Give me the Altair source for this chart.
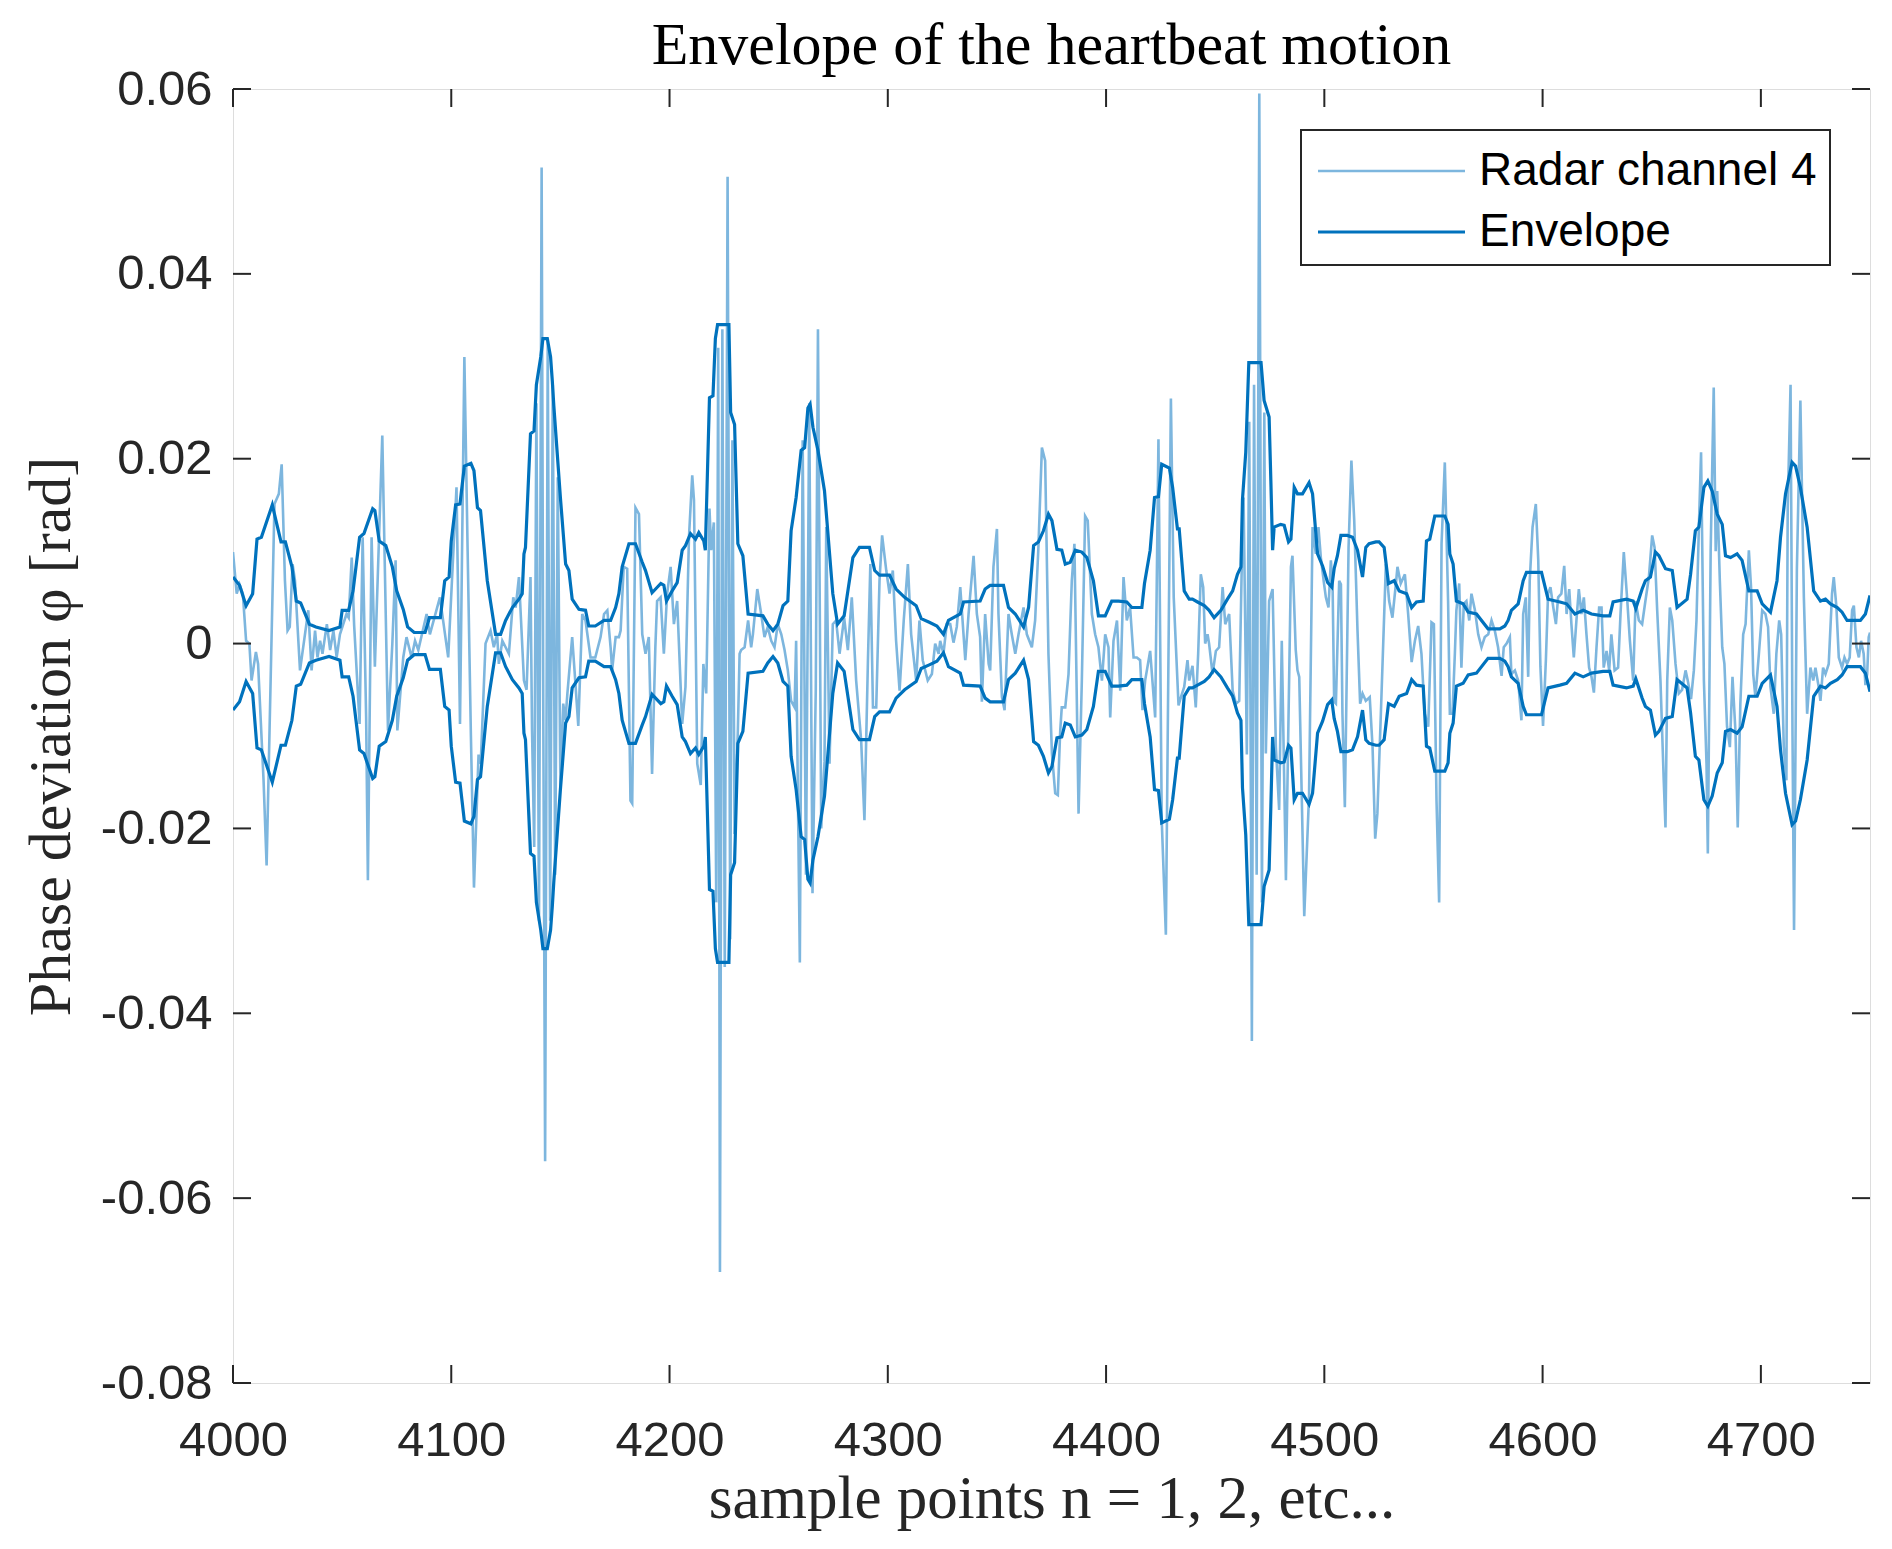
import altair as alt
import pandas as pd

# ---------------- text ----------------
TITLE = "Envelope of the heartbeat motion"
X_TITLE = "sample points n = 1, 2, etc..."
Y_TITLE = "Phase deviation φ [rad]"
LEGEND_LABELS = ["Radar channel 4", "Envelope"]

# ---------------- axes ----------------
X_DOMAIN = [4000, 4750]
Y_DOMAIN = [-0.08, 0.06]
X_TICKS = [4000, 4100, 4200, 4300, 4400, 4500, 4600, 4700]
Y_TICKS = [-0.08, -0.06, -0.04, -0.02, 0, 0.02, 0.04, 0.06]

# ---------------- data (sample n, value in mrad) ----------------
SIGNAL = [
    (4000, 9.9), (4001.7, 5.4), (4003, 6.4), (4004.5, 5.4), (4006, 0.3), (4007.5, 0), (4008.5, -4.0),
    (4010.5, -0.9), (4011.5, -2.2), (4014, -14.8), (4015.4, -24), (4019, 15.1), (4021, 16.2), (4022.3, 19.4),
    (4023.8, 6.8), (4025, 1.4), (4026, 1.8), (4027.3, 8.6), (4028.4, 6.8), (4030.7, -2.9), (4034.5, 3.6),
    (4036, -2.9), (4037.6, 1.4), (4038.7, -1.5), (4039.9, 0.3), (4041, -1.1), (4043, 2.1), (4044.5, -0.7),
    (4046, 1.4), (4047.5, -1.5), (4049, 1.0), (4052, 3.2), (4053, 2.8), (4054.4, 9.3), (4055.5, 2.0),
    (4058, -8.7), (4059.4, 11.5), (4061, -8.0), (4061.8, -25.6), (4063.5, 11.5), (4065, -2.5), (4068.4, 22.5),
    (4071, -9.4), (4073, 0), (4074.5, 9.0), (4075.3, -9.4), (4078, -1.5), (4079.5, 0.7), (4081.8, -1.5),
    (4083.4, 0.3), (4084.9, -0.7), (4088.7, 3.2), (4090.2, 1.0), (4094.8, 5.0), (4098.6, -1.5), (4102.4, 16.9),
    (4104, -8.7), (4106, 31), (4107.5, 10), (4109, -10), (4110.4, -26.4), (4112.5, -12), (4113.5, -13),
    (4115.7, 0), (4118, 1.4), (4119.5, -0.4), (4121, 1.0), (4121.8, -2.2), (4123.4, 0.3), (4124.9, -0.4),
    (4126.4, -1.1), (4128.4, 5.0), (4129.5, 3.9), (4131, 7.2), (4133.3, -4.0), (4134.5, -5.0), (4136.3, 7.2),
    (4137, -9.4), (4138, -22), (4139, 26), (4140.2, -30), (4141.4, 51.5), (4142.2, -10), (4143, -56),
    (4144.2, 33), (4145.3, -30), (4146.5, 28), (4147.6, -25), (4148.8, 18), (4150, -15.5), (4151.3, -6.5),
    (4152.3, -8.3), (4153.2, -5.4), (4155.4, 0.7), (4156.5, -3), (4158.2, -8.9), (4160, 3.2), (4161.5, 2.5),
    (4163.8, -1.5), (4166, -1.5), (4168.4, 0.7), (4170, 3.2), (4171.5, 3.6), (4173, -0.4), (4173.7, -2.9),
    (4175.3, 0.7), (4176.8, 0.7), (4177.6, 1.4), (4179, 8.3), (4180.6, 8.1), (4182.1, -17), (4182.9, -17.3),
    (4184.4, 14.7), (4186, 14.0), (4187.5, 1.0), (4189, -1.1), (4190.5, 0.7), (4192, -14.1), (4193.5, -0.4),
    (4194.3, 4.6), (4195.9, 5.0), (4197.4, -1.1), (4198.9, 5.4), (4200.5, 8.3), (4202, 2.1), (4203.5, 4.6),
    (4205.8, -8.7), (4207.3, -4.7), (4208.9, 11.5), (4210.4, 18.2), (4211.2, 15.5), (4212.7, -13),
    (4214.3, -15.3), (4215.5, -2.2), (4216.8, -5.4), (4218.3, 14.6), (4219.1, 10.1), (4220.3, 13.1),
    (4221.4, -28), (4222.3, 32), (4223.1, -68), (4224.2, 34), (4225.3, -35), (4226.6, 50.5), (4227.8, -32),
    (4228.8, 22), (4229.8, -20.6), (4231.3, -9.4), (4232.1, -1.1), (4232.8, -0.7), (4234.4, -0.4), (4236, 2.5),
    (4237.4, -0.4), (4238.2, 1.0), (4240.2, 5.9), (4242, 3.2), (4243.5, 0.7), (4245, 1.8), (4246.6, 0.3),
    (4248.1, -0.4), (4249.6, 2.1), (4251.2, 1.0), (4252.7, -0.7), (4254.2, -2.9), (4255.7, -6.2),
    (4257.3, -6.9), (4258, 0.3), (4259.7, -34.5), (4261, 22), (4262.5, -25), (4264, 26), (4265.5, -27),
    (4267, -5), (4268, 34), (4269.5, -20), (4271, -12.8), (4271.8, 12.6), (4273.3, -13), (4274.8, 2.1),
    (4276.3, 2.5), (4277.9, -1.1), (4280, 2.8), (4281.7, -0.7), (4283.5, 5.0), (4285.5, -4.0), (4287.8, -10.5),
    (4289.3, -19.1), (4290.9, -1.8), (4292, 8.6), (4293.2, -6.9), (4294.7, -6.9), (4296.2, 6.8), (4297.4, 11.7),
    (4299.3, 7.9), (4300.8, 5.4), (4302.3, 7.9), (4303.8, 0.3), (4305.4, -5.1), (4307.3, 2.5), (4309.2, 8.6),
    (4310.7, 1.0), (4313, -4.0), (4314.5, 2.5), (4316, -1.8), (4318.3, -4.0), (4320.2, -3.3), (4321.7, 0),
    (4323.3, -1.1), (4324, 0.3), (4325.5, -1.1), (4327, 2.1), (4328.6, 2.1), (4330.1, 0.1), (4331.6, 1.8),
    (4333.2, 6.1), (4335.5, -1.8), (4337, 3.2), (4339.3, 9.5), (4340.8, 3.2), (4342.3, 0.7), (4343.1, -6.3),
    (4344.6, 3.2), (4346.2, -2.2), (4346.9, -2.9), (4348.4, 8.3), (4350, 12.4), (4350.7, 3.2), (4352.3, -5.8),
    (4353.5, -7.2), (4355.3, 3.2), (4356.8, 1.0), (4358.4, -1.1), (4359.9, 1.0), (4362.2, 3.9), (4363.7, 1.0),
    (4366, -0.4), (4367.5, 2.5), (4369, 10.4), (4370.6, 21.2), (4372.1, 19.8), (4373.6, -1.1), (4375.2, -11.9),
    (4376.7, -16.2), (4377.9, -16.4), (4379, -9.4), (4379.7, -6.9), (4381.3, -6.9), (4382.8, -3.3),
    (4384.3, 6.8), (4385.5, 10.8), (4387.4, -18.4), (4388.9, -4.0), (4390.4, 13.8), (4391.6, 13.3),
    (4393.5, 3.2), (4395, 1.0), (4396.5, -0.4), (4398.1, -4.0), (4399.6, 1.0), (4401.1, -0.4), (4401.9, -8.0),
    (4403.4, 0.3), (4405, 2.5), (4406.5, -5.1), (4408, 7.2), (4409.5, 2.5), (4411, 3.9), (4412.6, -1.5),
    (4414.1, -1.5), (4415.6, -1.8), (4416.7, -7.2), (4417.9, -4.0), (4420.2, -0.8), (4422.5, -8.0),
    (4424, 22.1), (4425.5, -19.1), (4427.4, -31.5), (4429.7, 26.5), (4431, 5), (4433.2, -6.7), (4434.3, -5.8),
    (4435.8, -4.7), (4437.3, -1.8), (4438.1, -4.0), (4439.6, -2.4), (4441.1, -6.9), (4442.2, -1.1),
    (4443.4, 7.5), (4444.5, 6.1), (4445.4, 0), (4446.5, 1.0), (4447.2, 0), (4448.8, -3.3), (4450.3, -0.8),
    (4451.8, -0.4), (4453.4, 6.1), (4454.6, 2.1), (4456.4, 3.2), (4458, -5.1), (4459.5, -6.5), (4461, -6.2),
    (4462.2, 8.8), (4463, 15.8), (4464.5, -12), (4465.6, 24), (4466.8, -43), (4467.8, 28), (4469, -25),
    (4470.2, 59.5), (4471.4, -28), (4472.5, 25), (4473.2, -11.9), (4474.7, 4.6), (4476.3, 5.9),
    (4477.8, -11.2), (4479.3, -18), (4480.5, 0.3), (4482.4, -25.6), (4484.7, 8.3), (4485.4, 9.5),
    (4486.9, -0.7), (4487.7, -2.9), (4488.5, -3.6), (4490.8, -29.5), (4493, -16.4), (4494.6, 12.6),
    (4496.1, 9.7), (4497.3, 12.6), (4498.4, 9.3), (4499.9, 6.4), (4500.7, 5.0), (4501.9, 3.9), (4503, 9.0),
    (4503.8, 6.1), (4504.5, -6.3), (4505.3, -6.5), (4506.8, 6.8), (4507.6, 6.4), (4508.3, -7.6),
    (4509.4, -17.7), (4511.1, 10.4), (4512.4, 19.8), (4513.7, 13.3), (4515.2, 1.4), (4516.4, -6.5),
    (4517.5, -5.4), (4519, -6.2), (4520.8, -5.8), (4522.1, -11.2), (4523.3, -21.1), (4524.3, -18.4),
    (4525.9, -7.6), (4528.2, 8.6), (4529.7, 4.6), (4531.2, 2.8), (4532.8, 6.5), (4533.5, 8.3), (4535, 6.5),
    (4536.9, 7.5), (4538.4, 3.2), (4540, -2.0), (4541.5, 0.3), (4543, 1.9), (4544.5, -1.1), (4546, -7.6),
    (4547.6, -9.0), (4549.1, 2.3), (4550.2, 2.1), (4551.4, -17), (4552.6, -28), (4553.7, 10.8), (4555.2, 19.6),
    (4556.7, 4.6), (4557.5, -7.6), (4558.7, -7.6), (4559.8, -1.1), (4560.5, 3.6), (4561.8, 6.5), (4562.8, -2.6),
    (4563.9, 4.3), (4565.1, 4.6), (4566.4, 2.5), (4567.4, 5.4), (4569, 3.6), (4570.5, 1.0), (4572, -0.4),
    (4573.5, 0.7), (4575.1, 1.0), (4576.6, 2.5), (4578.1, 1.4), (4579.6, -0.4), (4581.2, -3.5), (4582.2, -0.4),
    (4583.5, 0), (4585, 0.7), (4585.7, -3.3), (4587.3, -2.9), (4588.8, -4.0), (4590.3, -8.3), (4591.1, 3.2),
    (4592.3, 5.0), (4593.4, -3.6), (4594.1, 6.8), (4595.4, 12.6), (4596.9, 15.1), (4598, 9.1), (4599, -2.5),
    (4600.2, -8.9), (4601.5, -1.8), (4602.5, 5.4), (4603.6, 6.1), (4604.9, 3.9), (4606.1, 2.1), (4607.1, 5.0),
    (4608.6, 5.4), (4609.9, 8.4), (4611, 3.2), (4612.2, 5.9), (4613.2, 2.1), (4614.3, -1.5), (4615.5, 2.5),
    (4616.6, 5.9), (4617.8, 3.2), (4618.9, 5.0), (4620.1, 1.0), (4621.3, -2.6), (4622.4, -3.6), (4623.5, -5.3),
    (4624.7, -0.4), (4625.9, 3.9), (4627, 3.9), (4628, -2.6), (4629.3, -0.8), (4630.5, -2.9), (4631.5, 1.0),
    (4633, -2.9), (4634.6, -2.6), (4635.7, 3.2), (4637.2, 9.9), (4638.7, 5.0), (4640, 0.3), (4641.5, -4.0),
    (4642.6, 4.6), (4644.1, 2.5), (4645.6, 2.1), (4647.1, 4.6), (4648.7, 7.2), (4650.2, 11.7), (4651.3, 10.4),
    (4652.5, 3.6), (4654, -4.0), (4655.5, -14.8), (4656.3, -19.9), (4657.1, -4.0), (4658.3, 3.9), (4659.4, 2.5),
    (4660.9, -2.2), (4662.4, -5.4), (4663.9, -5.0), (4665.5, -2.9), (4666.5, -4.0), (4668, -6.0),
    (4669.3, -2.9), (4670.5, 2.5), (4671.6, 12.6), (4672.6, 20.7), (4673.9, -4.0), (4675.1, -13),
    (4675.7, -22.7), (4677, 10), (4678.4, 27.7), (4679.3, 10), (4680, 16.5), (4681.2, 6.8), (4682.3, -0.4),
    (4683.3, -2.2), (4684.5, -9.0), (4685.8, -11.2), (4687, -3.6), (4688.4, -9.7), (4689.4, -19.9),
    (4690.6, -6.5), (4691.9, 1.0), (4693, 2.1), (4694.5, 10.1), (4695.5, 6.1), (4696.5, -3.3), (4697.5, -5.8),
    (4699.1, -1.1), (4700.6, 3.6), (4702.1, 3.2), (4703.3, 1.8), (4704.4, -4.7), (4705.9, -7.6), (4707.1, -1.1),
    (4708.4, 2.5), (4709.3, 1.0), (4710.5, -11.2), (4711.7, -14.8), (4712.3, 14.7), (4713.6, 28), (4714.5, -10),
    (4715.2, -31), (4716.5, 8), (4718.1, 26.3), (4719.7, 5), (4721.2, -7.6), (4722.7, -2.6), (4724, -4.0),
    (4725, -2.6), (4726.5, -4.7), (4727.3, -6.2), (4728.5, -2.6), (4729.6, -3.3), (4731.1, -2.2), (4732.6, 5.4),
    (4733.4, 7.2), (4734.6, 4.0), (4735.7, -1.5), (4737.2, -2.6), (4738.3, -1.5), (4739.5, -2.2),
    (4740.7, -1.5), (4741.8, 3.6), (4742.6, 4.1), (4743.8, -0.4), (4744.9, -1.5), (4745.9, 0.3), (4747.1, -1.1),
    (4747.9, -4.5), (4748.7, -3.3), (4749.4, 0.7), (4750, 1.2),
]

ENVELOPE = [
    (4000, 7.2), (4003, 6.3), (4006, 4.1), (4009, 5.4), (4011, 11.3), (4013, 11.5), (4018, 15.0), (4022, 11.0),
    (4024, 11.0), (4027, 8.3), (4029, 4.6), (4031, 4.4), (4035, 2.1), (4038, 1.8), (4044, 1.4), (4049, 1.8),
    (4050, 3.6), (4053, 3.6), (4055, 5.7), (4058, 11.5), (4060, 11.9), (4064, 14.6), (4065, 14.4), (4067, 11.1),
    (4070, 10.6), (4073, 8.3), (4075, 5.7), (4078, 3.7), (4080, 1.8), (4083, 1.2), (4088, 1.2), (4090, 2.8),
    (4095, 2.8), (4097, 6.8), (4099, 7.2), (4100, 11.1), (4102, 15.0), (4104, 15.1), (4106, 19.2), (4109, 19.5),
    (4110.4, 18.7), (4112, 14.7), (4113.4, 14.4), (4116.5, 6.8), (4120.3, 1.0), (4122.6, 1.0), (4124.9, 2.5),
    (4128, 3.9), (4131, 4.8), (4132.5, 5.4), (4133.3, 9.7), (4134, 10.4), (4136.3, 22.7), (4137.9, 23.0),
    (4139, 28), (4141, 31), (4142, 33), (4144, 33), (4145.5, 31), (4146.3, 28.4), (4147, 25.7), (4150, 15.8),
    (4152.4, 8.6), (4153.9, 7.9), (4155.4, 4.8), (4158.5, 3.7), (4161.5, 3.6), (4163, 1.9), (4166, 1.9),
    (4170, 2.5), (4173, 2.5), (4175.3, 3.9), (4176.8, 5.4), (4178.3, 8.3), (4181.4, 10.8), (4184.4, 10.8),
    (4187.5, 8.8), (4189, 7.9), (4192, 5.5), (4196, 6.5), (4197.4, 6.3), (4198.6, 4.6), (4201.2, 5.7),
    (4203.5, 6.6), (4205.8, 10.1), (4207.3, 10.6), (4209.6, 11.9), (4211.9, 11.3), (4213.4, 12.0),
    (4215.7, 11.1), (4216.4, 10.1), (4218.3, 26.6), (4219.9, 26.8), (4221, 33), (4222, 34.5), (4227.2, 34.5),
    (4228, 25), (4229.8, 23.7), (4231.3, 10.8), (4233.6, 9.5), (4236, 3.2), (4242.8, 3.0), (4245, 2.1),
    (4247.4, 1.4), (4249.6, 2.1), (4252, 4.1), (4254.2, 4.6), (4255.7, 12.2), (4258, 15.8), (4260.3, 20.9),
    (4261.9, 21.2), (4263.4, 25.5), (4264.4, 25.9), (4265.7, 23.4), (4268, 20.9), (4271, 16.5), (4274.8, 5.4),
    (4277, 2.1), (4280, 3.0), (4284, 9.3), (4287, 10.4), (4291.6, 10.4), (4294, 7.9), (4296.2, 7.4),
    (4300.8, 7.4), (4303.8, 5.9), (4307.7, 5.0), (4313, 4.1), (4315.3, 2.7), (4319, 2.3), (4322.5, 1.9),
    (4325.5, 1.0), (4327.8, 2.5), (4333.2, 3.2), (4334.7, 4.5), (4342.3, 4.6), (4344.6, 5.9), (4346.9, 6.3),
    (4353, 6.3), (4355.3, 3.9), (4358.4, 3.2), (4362.2, 1.8), (4364.5, 3.9), (4366.8, 10.6), (4369, 11.0),
    (4371.3, 12.2), (4373.6, 14.0), (4375.2, 13.3), (4377.5, 10.2), (4379.7, 10.1), (4381.3, 8.6),
    (4383.6, 8.8), (4385.9, 10.1), (4388.9, 9.9), (4391.2, 9.3), (4394.2, 6.8), (4396.5, 3.0), (4399.6, 3.0),
    (4402.6, 4.6), (4405.7, 4.6), (4409.5, 4.5), (4411.8, 3.9), (4416.4, 3.9), (4417.6, 6.5), (4420.2, 10.1),
    (4422.2, 15.8), (4424, 15.9), (4425.5, 19.4), (4429, 19.0), (4430.5, 16.9), (4432.7, 12.4), (4433.5, 12.4),
    (4435.8, 5.7), (4438.1, 4.8), (4439.6, 4.8), (4441.9, 4.5), (4445, 4.1), (4447.2, 3.6), (4449.5, 2.8),
    (4452.6, 3.6), (4455.6, 4.8), (4458, 5.7), (4460.2, 7.5), (4461.8, 8.3), (4462.5, 15.6), (4464, 20.7),
    (4465.4, 30.4), (4471, 30.4), (4471.7, 28.4), (4472.4, 26.3), (4474.7, 24.5), (4475.5, 17.6),
    (4476.3, 10.1), (4477, 12.6), (4480, 12.9), (4481.6, 12.8), (4483.6, 11.0), (4484.7, 11.3), (4486.2, 16.9),
    (4487.7, 16.2), (4490, 16.2), (4493, 17.4), (4494.6, 16.2), (4496.9, 9.7), (4499.2, 8.4), (4501.5, 6.6),
    (4503.4, 6.1), (4504.5, 8.1), (4506, 9.5), (4507.6, 11.7), (4510.6, 11.7), (4512.9, 11.5), (4515.2, 10.1),
    (4517.5, 7.2), (4519, 10.4), (4520.5, 10.8), (4523.6, 11.0), (4525.1, 11.0), (4527.4, 10.4), (4529.4, 6.5),
    (4532, 6.8), (4534.3, 5.7), (4537.7, 5.4), (4540, 3.9), (4542.2, 4.5), (4545.3, 4.6), (4546.8, 11.1),
    (4548.3, 11.3), (4550.6, 13.8), (4555.2, 13.8), (4556.7, 12.9), (4557.5, 9.7), (4559, 8.6), (4560.5, 4.6),
    (4563.6, 4.3), (4565.9, 3.4), (4569.7, 3.2), (4575, 1.6), (4580.4, 1.6), (4582.7, 1.9), (4584.2, 2.5),
    (4585.7, 3.6), (4588.8, 4.3), (4591.1, 6.8), (4592.6, 7.7), (4599.5, 7.7), (4602.5, 4.8), (4607.9, 4.5),
    (4611, 4.3), (4614.8, 3.2), (4618.6, 3.6), (4622.4, 3.2), (4627.7, 3.0), (4630.8, 3.0), (4632.3, 4.5),
    (4638.4, 4.8), (4641.5, 4.6), (4642.7, 3.8), (4645.6, 5.9), (4647.1, 6.8), (4649.4, 7.2), (4651.7, 9.9),
    (4653.3, 9.5), (4656.3, 8.1), (4659.4, 7.9), (4661.6, 3.9), (4666.2, 4.8), (4667.8, 7.5), (4670, 12.2),
    (4671.6, 12.6), (4673.9, 16.9), (4675.7, 17.6), (4677.7, 16.5), (4680, 14.0), (4682.3, 12.9),
    (4683.8, 9.5), (4686.1, 9.3), (4689.1, 9.7), (4691.4, 9.0), (4694.5, 5.7), (4698.3, 5.7), (4700.6, 4.3),
    (4704.4, 3.4), (4707.4, 6.8), (4709, 11.5), (4711.3, 16.2), (4714.3, 19.6), (4715.9, 19.2), (4718.1, 16.9),
    (4721.2, 12.6), (4724.2, 5.7), (4727.3, 4.6), (4729.6, 4.8), (4731.9, 4.3), (4735, 3.9), (4737.2, 3.4),
    (4739.5, 2.5), (4745.6, 2.5), (4747.9, 3.2), (4750, 5.2),
]

# ---------------- style ----------------
SIGNAL_COLOR = "#7DB6DE"
ENV_COLOR = "#0072BD"
AXIS_COLOR = "#262626"
W, H = 1637, 1294
TICK_LEN = 18

sig_df = pd.DataFrame({"n": [p[0] for p in SIGNAL], "v": [p[1] / 1000 for p in SIGNAL]})
env_up = pd.DataFrame({"n": [p[0] for p in ENVELOPE], "v": [p[1] / 1000 for p in ENVELOPE], "part": "upper"})
env_lo = pd.DataFrame({"n": [p[0] for p in ENVELOPE], "v": [-p[1] / 1000 for p in ENVELOPE], "part": "lower"})
env_df = pd.concat([env_up, env_lo], ignore_index=True)

xscale = alt.Scale(domain=X_DOMAIN, nice=False, zero=False)
yscale = alt.Scale(domain=Y_DOMAIN, nice=False, zero=False)

xaxis = alt.Axis(
    values=X_TICKS, ticks=False, tickSize=0, domain=False, grid=False, format="d",
    labelFlush=False, labelOverlap=False,
    labelFont="Liberation Sans", labelFontSize=49, labelColor=AXIS_COLOR, labelPadding=33,
    title=X_TITLE, titleFont="Liberation Serif", titleFontSize=61, titleFontWeight="normal",
    titleColor=AXIS_COLOR, titleBaseline="alphabetic", titleAlign="center", titleX=W / 2, titleY=134,
)
yaxis = alt.Axis(
    values=Y_TICKS, ticks=False, tickSize=0, domain=False, grid=False,
    labelFlush=False, labelOverlap=False,
    labelExpr="datum.value == 0 ? '0' : (datum.value < 0 ? '-' + format(-datum.value, '.2f') : format(datum.value, '.2f'))",
    labelFont="Liberation Sans", labelFontSize=49, labelColor=AXIS_COLOR, labelPadding=21,
    title=Y_TITLE, titleFont="Liberation Serif", titleFontSize=60, titleFontWeight="normal",
    titleColor=AXIS_COLOR, titleBaseline="alphabetic", titleAlign="center", titleAngle=270,
    titleX=-164, titleY=H / 2,
)

X = lambda: alt.X("n:Q", scale=xscale, axis=xaxis)
Y = lambda: alt.Y("v:Q", scale=yscale, axis=yaxis)

signal = alt.Chart(sig_df).mark_line(color=SIGNAL_COLOR, strokeWidth=2.6, clip=True).encode(x=X(), y=Y())
envelope = alt.Chart(env_df).mark_line(color=ENV_COLOR, strokeWidth=3.2, clip=True).encode(
    x=X(), y=Y(), detail="part:N"
)

xt = pd.DataFrame({"n": X_TICKS})
yt = pd.DataFrame({"v": Y_TICKS})
tick_bottom = alt.Chart(xt).mark_rule(color=AXIS_COLOR, strokeWidth=2).encode(
    x=X(), y=alt.value(H), y2=alt.value(H - TICK_LEN))
tick_top = alt.Chart(xt).mark_rule(color=AXIS_COLOR, strokeWidth=2).encode(
    x=X(), y=alt.value(0), y2=alt.value(TICK_LEN))
tick_left = alt.Chart(yt).mark_rule(color=AXIS_COLOR, strokeWidth=2).encode(
    y=Y(), x=alt.value(0), x2=alt.value(TICK_LEN))
tick_right = alt.Chart(yt).mark_rule(color=AXIS_COLOR, strokeWidth=2).encode(
    y=Y(), x=alt.value(W), x2=alt.value(W - TICK_LEN))

# chart title as a text mark centred above the plot frame
title_mark = alt.Chart(pd.DataFrame({"t": [TITLE]})).mark_text(
    font="Liberation Serif", fontSize=60, color="black", align="center", baseline="alphabetic"
).encode(x=alt.value(W / 2), y=alt.value(-25), text="t:N")

# legend (box, sample lines, labels)
LX0, LX1, LY0, LY1 = 1068, 1597, 41, 176
ROW_Y = [82, 143]
leg_df = pd.DataFrame({"label": LEGEND_LABELS})
legend_box = alt.Chart(leg_df.head(1)).mark_rect(fill="white", stroke=AXIS_COLOR, strokeWidth=2).encode(
    x=alt.value(LX0), x2=alt.value(LX1), y=alt.value(LY0), y2=alt.value(LY1))
legend_layers = [legend_box]
for i, (lab, col, sw) in enumerate(zip(LEGEND_LABELS, [SIGNAL_COLOR, ENV_COLOR], [2.6, 3.2])):
    row = pd.DataFrame({"label": [lab]})
    legend_layers.append(
        alt.Chart(row).mark_rule(color=col, strokeWidth=sw).encode(
            x=alt.value(1085), x2=alt.value(1232), y=alt.value(ROW_Y[i]))
    )
    legend_layers.append(
        alt.Chart(row).mark_text(font="Liberation Sans", fontSize=46, color="black", align="left",
                                 baseline="middle").encode(
            x=alt.value(1246), y=alt.value(ROW_Y[i]), text="label:N")
    )

chart = alt.layer(
    signal, envelope, tick_bottom, tick_top, tick_left, tick_right, title_mark, *legend_layers
).properties(
    width=W, height=H,
    autosize=alt.AutoSizeParams(type="none"),
    padding={"left": 225, "top": 81, "right": 14, "bottom": 150},
).configure_view(stroke=AXIS_COLOR, strokeWidth=2).configure(background="white")

chart.save("out.html", embed_options={"renderer": "svg", "actions": False})
